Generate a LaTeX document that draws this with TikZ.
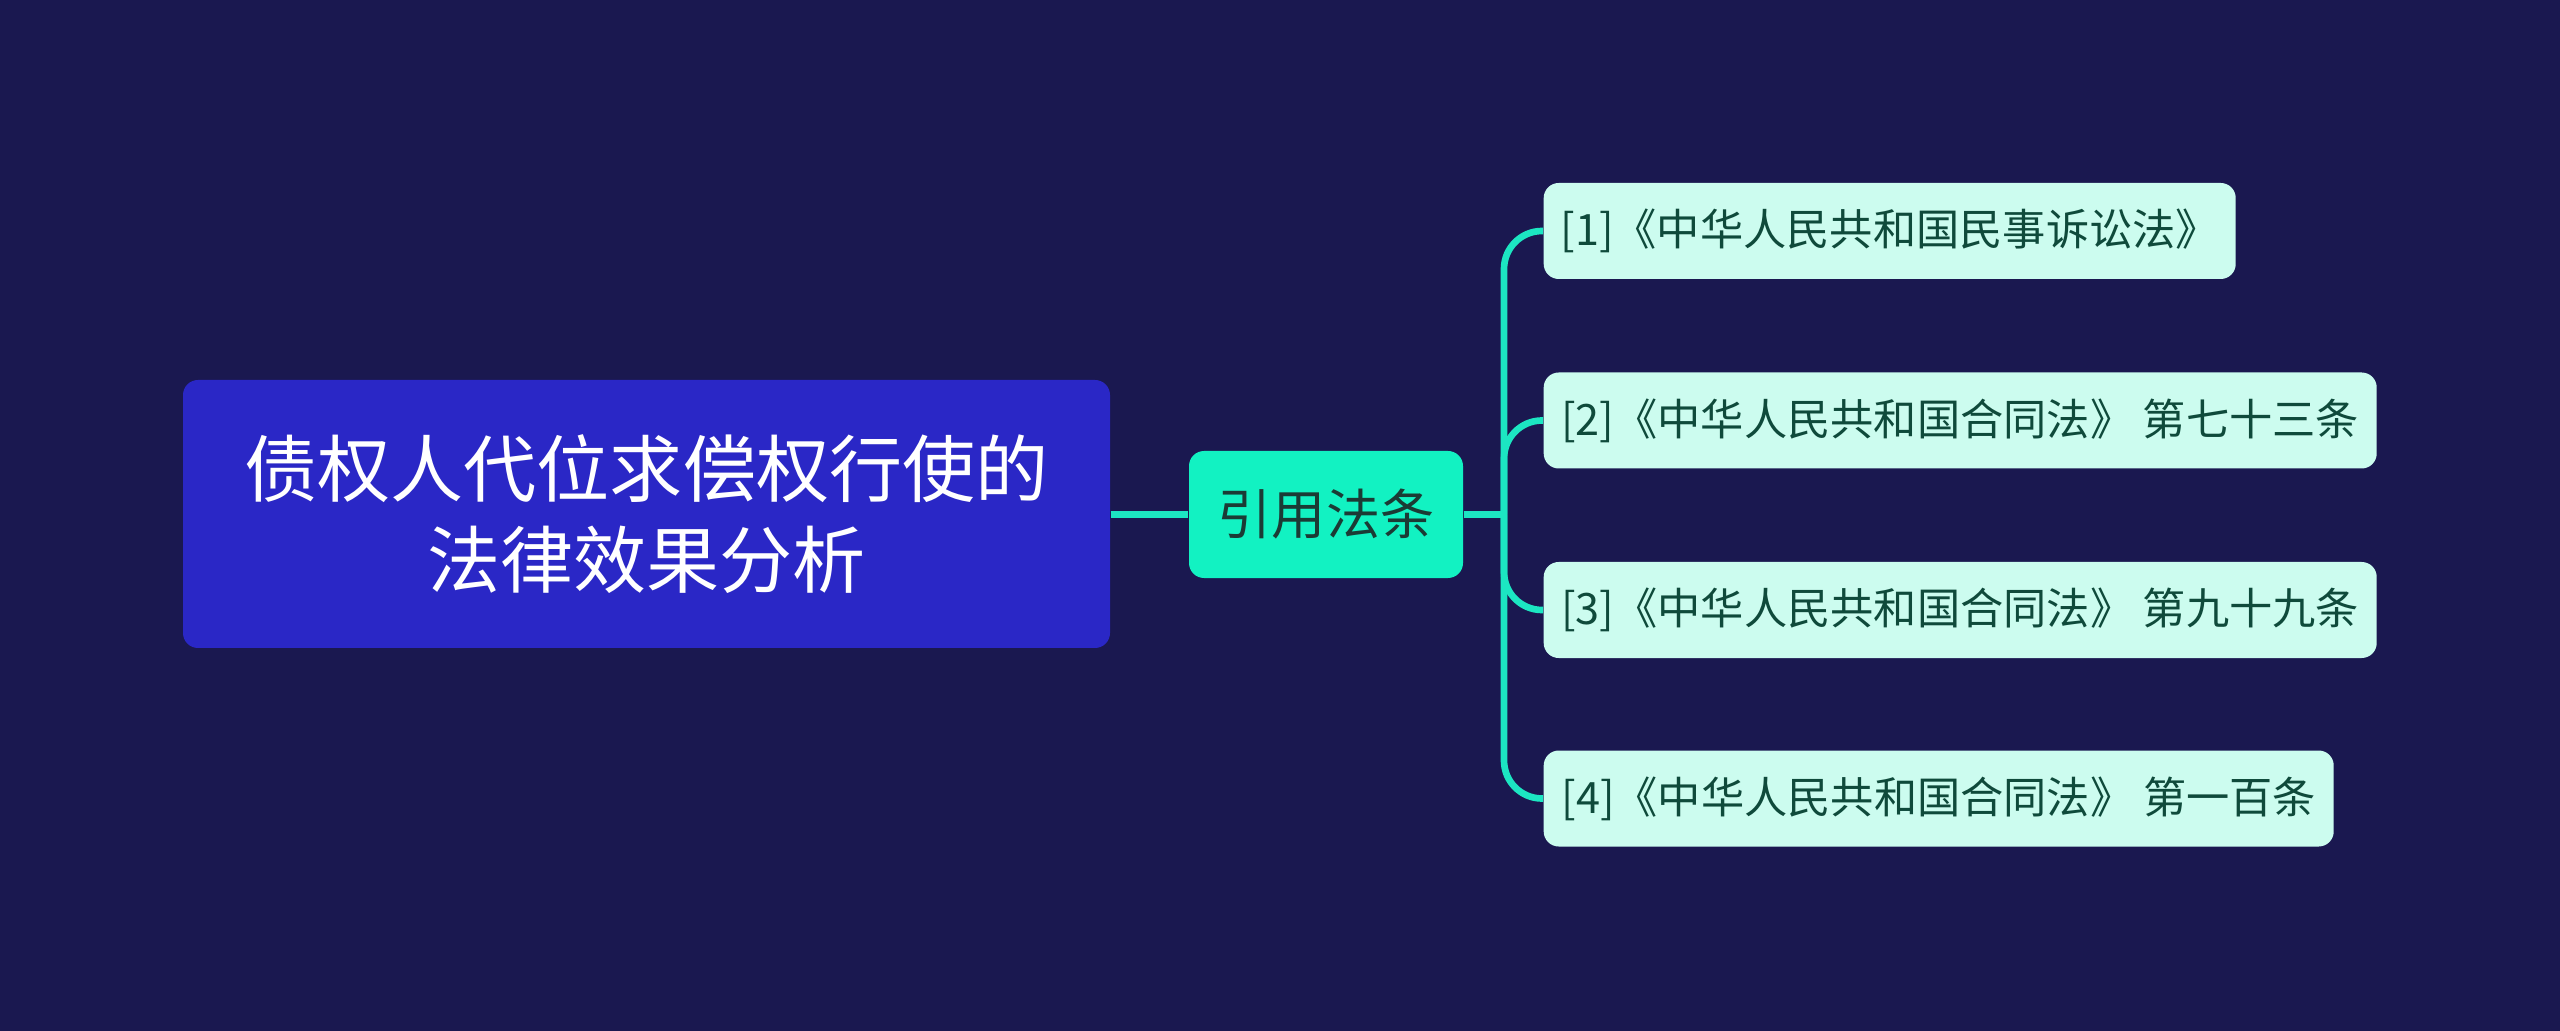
\documentclass[tikz,border=0pt]{standalone}
\usepackage{fontspec}
\setmainfont{Noto Sans CJK SC}
\usetikzlibrary{calc}
\definecolor{bgcol}{HTML}{1A1850}
\definecolor{rootcol}{HTML}{2A27C6}
\definecolor{midcol}{HTML}{12F2C2}
\definecolor{leafcol}{HTML}{CCFCEF}
\definecolor{linecol}{HTML}{1CE6C2}
\definecolor{leaftext}{HTML}{0F4A3B}
\definecolor{midtext}{HTML}{1B3B35}
\tikzset{
  rootbox/.style={fill=rootcol, rounded corners=0.15cm, text=white, align=center,
    minimum width=9.27cm, minimum height=2.68cm, inner sep=0pt,
    font=\fontsize{20.8pt}{25.8pt}\selectfont},
  midbox/.style={fill=midcol, rounded corners=0.15cm, text=midtext,
    minimum width=2.74cm, minimum height=1.27cm, inner sep=0pt,
    font=\fontsize{15.4pt}{18pt}\selectfont},
  leafbox/.style={fill=leafcol, rounded corners=0.15cm, text=leaftext, anchor=west,
    minimum height=0.96cm, inner sep=0pt,
    font=\fontsize{12.3pt}{15pt}\selectfont},
  conn/.style={draw=linecol, line width=1.9pt},
}
\begin{document}
\begin{tikzpicture}
\fill[bgcol] (0,0) rectangle (25.6,-10.31);
\useasboundingbox (0,0) rectangle (25.6,-10.31);
\node[rootbox] (root) at (6.465,-5.14) {债权人代位求偿权行使的\\法律效果分析};
\node[midbox] (mid) at (13.26,-5.145) {引用法条};
\node[leafbox, minimum width=6.92cm] (l1) at (15.43,-2.31) {[1]《中华人民共和国民事诉讼法》};
\node[leafbox, minimum width=8.33cm] (l2) at (15.43,-4.205) {[2]《中华人民共和国合同法》 第七十三条};
\node[leafbox, minimum width=8.33cm] (l3) at (15.43,-6.10) {[3]《中华人民共和国合同法》 第九十九条};
\node[leafbox, minimum width=7.90cm] (l4) at (15.43,-7.985) {[4]《中华人民共和国合同法》 第一百条};
\coordinate (trunk) at (15.04,-5.145);
\draw[conn] (root.east |- mid.west) -- (mid.west);
\draw[conn] (mid.east) -- (trunk);
\draw[conn, rounded corners=0.38cm] (l1.west) -| (trunk) |- (l4.west);
\draw[conn, rounded corners=0.38cm] (trunk) |- (l2.west);
\draw[conn, rounded corners=0.38cm] (trunk) |- (l3.west);
\end{tikzpicture}
\end{document}
